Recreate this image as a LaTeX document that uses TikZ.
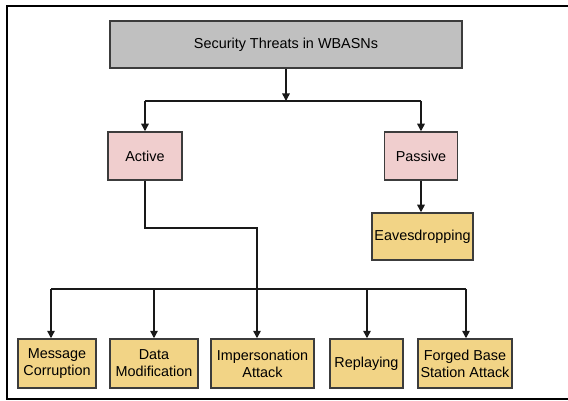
\documentclass[tikz,border=0pt]{standalone}
\usepackage{fontspec}
\setmainfont{Liberation Sans}
\usetikzlibrary{arrows.meta}
\definecolor{rootfill}{RGB}{192,192,192}
\definecolor{pinkfill}{RGB}{240,206,206}
\definecolor{yellowfill}{RGB}{242,212,134}
\definecolor{edgegray}{RGB}{60,60,60}
\tikzset{
  box/.style={draw=edgegray, line width=1.5pt, inner sep=1pt, align=center,
    font=\fontsize{14.4}{17}\selectfont, text=black},
  rootbox/.style={box, fill=rootfill},
  catbox/.style={box, fill=pinkfill},
  leafbox/.style={box, fill=yellowfill},
  arr/.style={line width=1.5pt, draw=black!90, -{Triangle[length=7.5pt,width=7.5pt]}},
  ln/.style={line width=1.5pt, draw=black!90},
}
\begin{document}
\begin{tikzpicture}[x=1pt,y=-1pt]
\useasboundingbox (0,0) rectangle (568,401);
\begin{scope}
\clip (0,0) rectangle (568,401);
\draw[line width=2.2pt] (590,6) -- (7,6) -- (7,399) -- (590,399);
\end{scope}

\node[rootbox, minimum width=352pt, minimum height=47pt] (root) at (286,44.5) {Security Threats in WBASNs};
\node[catbox, minimum width=74pt, minimum height=48pt] (active) at (145,156) {Active};
\node[catbox, minimum width=73pt, minimum height=48pt] (passive) at (421,156) {Passive};
\node[leafbox, minimum width=101pt, minimum height=47pt] (eaves) at (422.5,236.5) {Eavesdropping};

\node[leafbox, minimum width=78pt, minimum height=49pt] (mc) at (57,363.5) {Message\\Corruption};
\node[leafbox, minimum width=88pt, minimum height=49pt] (dm) at (154,363.5) {Data\\Modification};
\node[leafbox, minimum width=103pt, minimum height=49pt] (ia) at (262.5,363.5) {Impersonation\\Attack};
\node[leafbox, minimum width=73pt, minimum height=49pt] (rp) at (366.5,363.5) {Replaying};
\node[leafbox, minimum width=94pt, minimum height=49pt] (fb) at (465,363.5) {Forged Base\\Station Attack};

% top split
\coordinate (t0) at (286,101);
\coordinate (tl) at (145,101);
\coordinate (tr) at (421,101);
\draw[arr] (root.south) -- (t0);
\draw[ln] (tl) -- (tr);
\draw[arr] (tl) -- (active.north);
\draw[arr] (tr) -- (passive.north);
\draw[arr] (passive.south) -- (eaves.north -| passive.south);

% active route
\coordinate (a1) at (145,228);
\coordinate (a2) at (257,228);
\draw[arr] (active.south) -- (a1) -- (a2) -- (a2 |- ia.north);

% bottom bus
\coordinate (b1) at (51,289);
\coordinate (b2) at (154,289);
\coordinate (b4) at (367,289);
\coordinate (b5) at (466,289);
\draw[ln] (b1) -- (b5);
\draw[arr] (b1) -- (b1 |- mc.north);
\draw[arr] (b2) -- (b2 |- dm.north);
\draw[arr] (b4) -- (b4 |- rp.north);
\draw[arr] (b5) -- (b5 |- fb.north);
\end{tikzpicture}
\end{document}
